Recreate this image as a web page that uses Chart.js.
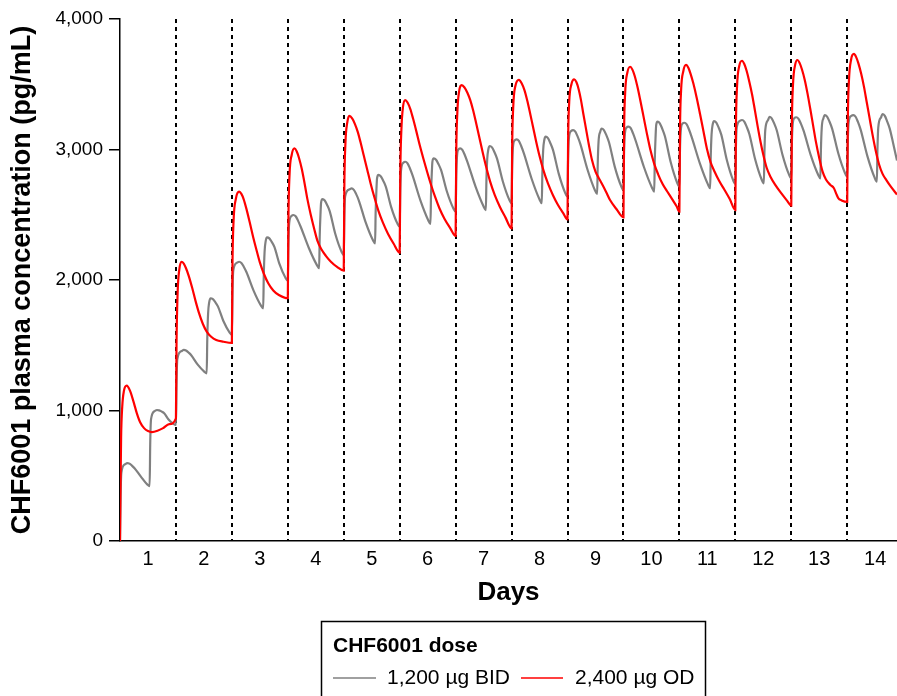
<!DOCTYPE html>
<html><head><meta charset="utf-8">
<script src="https://cdn.jsdelivr.net/npm/chart.js@4.4.1/dist/chart.umd.min.js"></script>
<style>html,body{margin:0;padding:0;background:#fff;}#wrap{width:897px;height:696px;position:relative;}</style>
</head><body><div id="wrap"><canvas id="c" width="897" height="696"></canvas></div>
<script>
// ---- data ----
const dayLabels = [1,2,3,4,5,6,7,8,9,10,11,12,13,14];
const doseLines = [1.5,2.5,3.5,4.5,5.5,6.5,7.5,8.5,9.5,10.5,11.5,12.5,13.5];
const yTicks = [0,1000,2000,3000,4000];
const legendTitle = 'CHF6001 dose';
const seriesLabels = ['1,200 µg BID','2,400 µg OD'];
const xTitle = 'Days';
const yTitle = 'CHF6001 plasma concentration (pg/mL)';

// 1,200 µg BID  [day, pg/mL]
const bid1200 = [
 [0.5,0],[0.51,330],[0.525,525],[0.59,588],[0.63,597],[0.67,593],[0.71,579],[0.76,558],[0.87,495],[0.99,432],[1.03,421],
 [1.04,742],[1.055,934],[1.12,995],[1.16,1004],[1.2,1001],[1.24,993],[1.29,979],[1.364,933],[1.46,896],[1.5,889],
 [1.51,1205],[1.525,1395],[1.6,1455],[1.64,1464],[1.68,1460],[1.72,1446],[1.77,1425],[1.886,1353],[2.01,1296],[2.05,1285],
 [2.06,1544],[2.075,1745],[2.095,1831],[2.12,1860],[2.16,1853],[2.2,1832],[2.25,1798],[2.348,1686],[2.46,1597],[2.5,1580],
 [2.51,1888],[2.525,2073],[2.59,2132],[2.63,2140],[2.67,2131],[2.71,2104],[2.76,2061],[2.888,1919],[3.02,1804],[3.06,1783],
 [3.07,2028],[3.085,2218],[3.105,2300],[3.13,2327],[3.17,2319],[3.21,2294],[3.26,2254],[3.352,2121],[3.46,2015],[3.5,1995],
 [3.51,2272],[3.525,2438],[3.565,2490],[3.6,2498],[3.64,2488],[3.68,2457],[3.73,2408],[3.876,2245],[4.02,2114],[4.06,2090],
 [4.07,2329],[4.085,2514],[4.095,2594],[4.12,2620],[4.16,2609],[4.2,2577],[4.25,2526],[4.348,2354],[4.46,2217],[4.5,2191],
 [4.51,2472],[4.525,2641],[4.6,2694],[4.64,2702],[4.68,2691],[4.72,2660],[4.77,2609],[4.892,2441],[5.02,2306],[5.06,2281],
 [5.07,2517],[5.085,2700],[5.095,2779],[5.12,2805],[5.16,2795],[5.2,2765],[5.25,2718],[5.348,2559],[5.46,2432],[5.5,2408],
 [5.51,2682],[5.525,2846],[5.565,2899],[5.6,2906],[5.64,2894],[5.68,2858],[5.73,2801],[5.87,2610],[6.01,2458],[6.05,2429],
 [6.06,2655],[6.075,2831],[6.085,2907],[6.11,2932],[6.15,2922],[6.19,2891],[6.24,2842],[6.344,2678],[6.46,2548],[6.5,2523],
 [6.51,2790],[6.525,2951],[6.55,3000],[6.58,3009],[6.62,2997],[6.66,2962],[6.71,2905],[6.856,2716],[7.0,2564],[7.04,2536],
 [7.05,2757],[7.065,2929],[7.085,3002],[7.11,3027],[7.15,3016],[7.19,2983],[7.24,2930],[7.344,2755],[7.46,2614],[7.5,2588],
 [7.51,2858],[7.525,3019],[7.555,3070],[7.59,3078],[7.63,3066],[7.67,3029],[7.72,2970],[7.86,2774],[8.0,2617],[8.04,2588],
 [8.05,2818],[8.065,2996],[8.085,3073],[8.11,3098],[8.15,3087],[8.19,3052],[8.24,2997],[8.344,2813],[8.46,2666],[8.5,2638],
 [8.51,2919],[8.525,3088],[8.565,3141],[8.6,3149],[8.64,3137],[8.68,3100],[8.73,3041],[8.858,2845],[8.99,2688],[9.03,2659],
 [9.04,2885],[9.055,3061],[9.085,3136],[9.11,3161],[9.15,3149],[9.19,3114],[9.24,3057],[9.344,2869],[9.46,2718],[9.5,2690],
 [9.51,2957],[9.525,3117],[9.555,3168],[9.59,3175],[9.63,3163],[9.67,3125],[9.72,3065],[9.866,2866],[10.01,2707],[10.05,2677],
 [10.06,2918],[10.075,3106],[10.085,3186],[10.11,3213],[10.15,3201],[10.19,3163],[10.24,3103],[10.344,2904],[10.46,2745],[10.5,2715],
 [10.51,2985],[10.525,3146],[10.555,3198],[10.59,3205],[10.63,3192],[10.67,3155],[10.72,3095],[10.866,2894],[11.01,2733],[11.05,2703],
 [11.06,2935],[11.075,3115],[11.095,3192],[11.12,3218],[11.16,3206],[11.2,3170],[11.25,3112],[11.348,2919],[11.46,2765],[11.5,2736],
 [11.51,3006],[11.525,3167],[11.58,3219],[11.62,3226],[11.66,3214],[11.7,3177],[11.75,3119],[11.854,2925],[11.97,2770],[12.01,2741],
 [12.02,2971],[12.035,3149],[12.085,3226],[12.11,3251],[12.15,3239],[12.19,3204],[12.24,3147],[12.344,2958],[12.46,2807],[12.5,2779],
 [12.51,3036],[12.525,3191],[12.555,3240],[12.59,3247],[12.63,3235],[12.67,3200],[12.72,3144],[12.848,2957],[12.98,2807],[13.02,2779],
 [13.03,2997],[13.045,3167],[13.075,3240],[13.1,3264],[13.14,3252],[13.18,3217],[13.23,3160],[13.34,2971],[13.46,2820],[13.5,2792],
 [13.51,3052],[13.525,3207],[13.57,3257],[13.61,3264],[13.65,3251],[13.69,3213],[13.74,3152],[13.862,2947],[13.99,2784],[14.03,2753],
 [14.04,2987],[14.055,3168],[14.105,3246],[14.13,3272],[14.17,3259],[14.21,3220],[14.26,3160],[14.32,3050],[14.39,2915]
];

// 2,400 µg OD  [day, pg/mL]
const od2400 = [
 [0.5,0],[0.51,450],[0.52,800],[0.54,1030],[0.57,1150],[0.62,1190],[0.68,1150],[0.74,1070],[0.8,980],[0.86,910],[0.93,865],[1.0,843],[1.07,835],[1.17,845],[1.27,865],[1.38,895],[1.5,940],
 [1.51,1500],[1.53,1900],[1.56,2080],[1.6,2140],[1.64,2125],[1.68,2090],[1.73,2030],[1.79,1940],[1.85,1840],[1.91,1750],[1.98,1665],[2.05,1605],[2.13,1565],[2.22,1540],[2.35,1527],[2.5,1518],
 [2.51,2100],[2.53,2450],[2.57,2620],[2.63,2677],[2.67,2660],[2.71,2620],[2.76,2545],[2.82,2440],[2.88,2330],[2.94,2230],[3.0,2135],[3.07,2050],[3.15,1975],[3.24,1920],[3.34,1885],[3.5,1860],
 [3.51,2450],[3.53,2800],[3.57,2960],[3.62,3008],[3.66,2985],[3.7,2935],[3.75,2850],[3.8,2740],[3.85,2620],[3.91,2500],[3.97,2395],[4.03,2300],[4.1,2235],[4.18,2185],[4.27,2140],[4.38,2100],[4.5,2072],
 [4.51,2700],[4.53,3050],[4.56,3200],[4.6,3257],[4.65,3238],[4.7,3195],[4.75,3135],[4.8,3055],[4.86,2950],[4.92,2845],[4.98,2740],[5.05,2630],[5.12,2530],[5.2,2440],[5.29,2355],[5.39,2280],[5.5,2209],
 [5.51,2800],[5.53,3150],[5.56,3330],[5.6,3379],[5.64,3360],[5.69,3310],[5.74,3235],[5.8,3135],[5.86,3030],[5.92,2935],[5.99,2830],[6.06,2730],[6.13,2640],[6.21,2550],[6.3,2470],[6.4,2400],[6.5,2337],
 [6.51,2950],[6.53,3280],[6.56,3440],[6.61,3494],[6.66,3474],[6.71,3435],[6.76,3380],[6.81,3305],[6.86,3215],[6.92,3100],[6.98,2985],[7.05,2860],[7.12,2750],[7.2,2650],[7.29,2562],[7.39,2480],[7.5,2396],
 [7.51,3000],[7.53,3330],[7.57,3490],[7.63,3533],[7.68,3508],[7.73,3455],[7.78,3375],[7.83,3280],[7.88,3180],[7.94,3060],[8.0,2950],[8.07,2840],[8.15,2740],[8.24,2650],[8.33,2575],[8.42,2515],[8.5,2464],
 [8.51,3050],[8.53,3360],[8.57,3500],[8.62,3538],[8.66,3515],[8.7,3460],[8.74,3380],[8.78,3280],[8.83,3160],[8.88,3040],[8.94,2915],[9.0,2830],[9.06,2780],[9.11,2741],[9.19,2675],[9.26,2613],[9.38,2540],[9.5,2480],
 [9.51,3100],[9.53,3430],[9.57,3590],[9.62,3634],[9.66,3612],[9.7,3565],[9.75,3480],[9.8,3379],[9.86,3250],[9.92,3120],[9.98,3000],[10.05,2890],[10.12,2810],[10.2,2735],[10.28,2680],[10.37,2620],[10.45,2565],[10.5,2523],
 [10.51,3130],[10.53,3450],[10.57,3600],[10.62,3648],[10.66,3626],[10.7,3580],[10.75,3505],[10.81,3395],[10.87,3270],[10.93,3140],[10.99,3010],[11.06,2900],[11.13,2830],[11.21,2760],[11.3,2695],[11.4,2620],[11.5,2536],
 [11.51,3150],[11.53,3480],[11.57,3640],[11.62,3680],[11.66,3655],[11.7,3605],[11.75,3520],[11.8,3420],[11.85,3300],[11.9,3175],[11.95,3060],[12.0,2960],[12.06,2860],[12.13,2790],[12.22,2725],[12.32,2665],[12.42,2610],[12.5,2570],
 [12.51,3170],[12.53,3490],[12.57,3650],[12.61,3686],[12.65,3662],[12.69,3615],[12.74,3535],[12.79,3430],[12.84,3310],[12.89,3185],[12.94,3060],[13.0,2935],[13.06,2830],[13.12,2770],[13.2,2728],[13.26,2705],[13.3,2665],[13.34,2628],[13.4,2610],[13.5,2598],
 [13.51,3200],[13.53,3520],[13.57,3690],[13.62,3732],[13.66,3708],[13.7,3660],[13.75,3580],[13.8,3480],[13.85,3360],[13.9,3240],[13.95,3120],[14.01,2990],[14.07,2885],[14.13,2815],[14.2,2765],[14.28,2715],[14.39,2655]
];

const seriesColors = ['#808080','#ff0000'];
const FONT = '"Liberation Sans", Arial, Helvetica, sans-serif';
const xTickValues = dayLabels.concat(doseLines).sort((a,b)=>a-b);

const legendPlugin = {
  id: 'boxLegend',
  afterDraw(chart) {
    const ctx = chart.ctx;
    ctx.save();
    ctx.strokeStyle = '#000';
    ctx.lineWidth = 1.5;
    ctx.strokeRect(321.5, 621.5, 384, 90);
    ctx.fillStyle = '#000';
    ctx.textBaseline = 'alphabetic';
    ctx.textAlign = 'left';
    ctx.font = 'bold 21px ' + FONT;
    ctx.fillText(legendTitle, 333, 652);
    const items = [
      {x0: 333, x1: 376, tx: 387},
      {x0: 521, x1: 563, tx: 575}
    ];
    const y = 678;
    chart.data.datasets.forEach((ds, i) => {
      const it = items[i];
      ctx.strokeStyle = ds.borderColor;
      ctx.lineWidth = 1.5;
      ctx.beginPath(); ctx.moveTo(it.x0, y); ctx.lineTo(it.x1, y); ctx.stroke();
      ctx.fillStyle = '#000';
      ctx.font = '21px ' + FONT;
      ctx.textBaseline = 'middle';
      ctx.fillText(ds.label, it.tx, y);
    });
    ctx.restore();
  }
};

new Chart(document.getElementById('c'), {
  type: 'line',
  data: {
    datasets: [
      { label: seriesLabels[0], data: bid1200.map(p => ({x: p[0], y: p[1]})), borderColor: seriesColors[0],
        borderWidth: 2.2, pointRadius: 0, cubicInterpolationMode: 'monotone', fill: false, order: 2 },
      { label: seriesLabels[1], data: od2400.map(p => ({x: p[0], y: p[1]})), borderColor: seriesColors[1],
        borderWidth: 2.2, pointRadius: 0, cubicInterpolationMode: 'monotone', fill: false, order: 1 }
    ]
  },
  options: {
    responsive: false,
    devicePixelRatio: 1,
    animation: false,
    layout: { padding: { left: 0, top: 19, right: 0, bottom: 85 } },
    plugins: { legend: { display: false }, tooltip: { enabled: false } },
    scales: {
      x: {
        type: 'linear', min: 0.5, max: 14.39,
        afterBuildTicks: s => { s.ticks = xTickValues.map(v => ({value: v})); },
        afterFit: s => { s.height = 70; },
        ticks: {
          autoSkip: false, maxRotation: 0, padding: 6, color: '#000',
          font: { family: FONT, size: 20 },
          callback: v => (Number.isInteger(v) ? String(dayLabels[dayLabels.indexOf(v)]) : '')
        },
        grid: {
          drawTicks: false, lineWidth: 2,
          color: c => (c.tick && !Number.isInteger(c.tick.value) ? '#000' : 'rgba(0,0,0,0)')
        },
        border: { display: true, color: '#000', width: 1.5, dash: [4, 4] },
        title: { display: true, text: xTitle, color: '#000', padding: { top: 0, bottom: 3 },
          font: { family: FONT, size: 26, weight: 'bold' } }
      },
      y: {
        min: 0, max: 4000,
        afterBuildTicks: s => { s.ticks = yTicks.map(v => ({value: v})); },
        afterFit: s => { s.width = 120; },
        ticks: { padding: 6, color: '#000', font: { family: FONT, size: 19 },
          callback: v => v.toLocaleString('en-US') },
        grid: { drawOnChartArea: false, drawTicks: true, tickLength: 11, color: '#000', lineWidth: 1.5 },
        border: { display: true, color: '#000', width: 1.5 },
        title: { display: true, text: yTitle, color: '#000', padding: { top: 6, bottom: 0 },
          font: { family: FONT, size: 27, weight: 'bold' } }
      }
    }
  },
  plugins: [legendPlugin]
});
</script></body></html>
